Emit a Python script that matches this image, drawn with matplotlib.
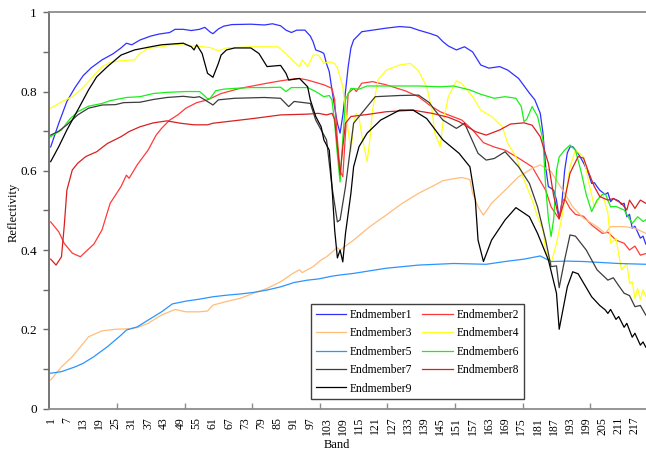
import matplotlib
matplotlib.use("Agg")
import matplotlib.pyplot as plt
from matplotlib.ticker import FixedLocator

plt.rcParams['font.family'] = ['Liberation Serif', 'DejaVu Serif']

# ---- spectral reflectance of each endmember (band number, reflectivity) ----
e1_band = [1, 4, 7, 10, 13, 16, 20, 24, 27, 29, 31, 34, 38, 41, 45, 47, 50, 53, 56, 58, 60, 61, 63, 65, 68, 75,
           80, 83, 86, 88, 90, 92, 95, 97, 98, 99, 101, 102, 103, 104, 105, 106, 107, 108, 109, 110, 111, 112,
           113, 116, 120, 125, 130, 134, 137, 141, 144, 146, 148, 151, 154, 157, 160, 163, 167, 170, 174, 178,
           180, 182, 183, 184, 185, 186, 187, 188, 189, 190, 191, 192, 193, 194, 196, 198, 200, 201, 202, 203,
           204, 206, 207, 208, 209, 211, 212, 213, 214, 215, 216, 217, 218, 219, 220, 221]
e1_refl = [0.66, 0.72, 0.775, 0.81, 0.84, 0.86, 0.88, 0.895, 0.91, 0.922, 0.918, 0.93, 0.94, 0.945, 0.949, 0.957,
           0.957, 0.954, 0.957, 0.962, 0.95, 0.946, 0.958, 0.965, 0.969, 0.97, 0.968, 0.971, 0.966, 0.955, 0.949,
           0.955, 0.955, 0.94, 0.926, 0.905, 0.9, 0.896, 0.87, 0.85, 0.804, 0.76, 0.72, 0.695, 0.74, 0.8, 0.863,
           0.91, 0.93, 0.951, 0.955, 0.96, 0.964, 0.962, 0.955, 0.947, 0.94, 0.926, 0.915, 0.905, 0.913, 0.9,
           0.867, 0.859, 0.863, 0.854, 0.833, 0.796, 0.779, 0.745, 0.695, 0.61, 0.56, 0.556, 0.55, 0.526, 0.48,
           0.52, 0.6, 0.645, 0.66, 0.661, 0.644, 0.62, 0.59, 0.568, 0.57, 0.56, 0.551, 0.54, 0.545, 0.522, 0.53,
           0.524, 0.515, 0.518, 0.484, 0.49, 0.455, 0.46, 0.445, 0.43, 0.435, 0.415]

e2_band = [1, 4, 6, 9, 12, 14, 17, 20, 23, 27, 29, 30, 33, 37, 40, 42, 45, 48, 51, 55, 59, 64, 71, 81, 86, 91, 93,
           96, 98, 102, 105, 106, 107, 108, 109, 110, 111, 113, 114, 116, 120, 125, 132, 137, 141, 145, 148, 153,
           157, 161, 165, 169, 174, 179, 184, 186, 189, 190, 191, 193, 195, 198, 201, 205, 207, 210, 213, 215,
           217, 219, 221]
e2_refl = [0.471, 0.446, 0.417, 0.392, 0.383, 0.396, 0.415, 0.451, 0.518, 0.56, 0.589, 0.581, 0.615, 0.652, 0.69,
           0.707, 0.728, 0.741, 0.758, 0.772, 0.779, 0.795, 0.808, 0.821, 0.827, 0.832, 0.833, 0.829, 0.825, 0.817,
           0.808, 0.779, 0.678, 0.6, 0.585, 0.695, 0.795, 0.808, 0.8, 0.821, 0.825, 0.817, 0.802, 0.787, 0.766,
           0.749, 0.741, 0.728, 0.703, 0.671, 0.66, 0.652, 0.632, 0.61, 0.551, 0.509, 0.478, 0.52, 0.53, 0.505,
           0.49, 0.485, 0.463, 0.442, 0.445, 0.425, 0.417, 0.4, 0.41, 0.387, 0.391]

e3_band = [1, 5, 9, 11, 15, 20, 25, 29, 33, 37, 42, 47, 51, 56, 59, 61, 66, 71, 76, 81, 86, 91, 93, 94, 98, 101,
           103, 107, 108, 113, 119, 125, 131, 137, 143, 146, 150, 153, 156, 157, 159, 161, 164, 169, 174, 179,
           182, 186, 191, 194, 198, 203, 206, 208, 213, 217, 221]
e3_refl = [0.072, 0.105, 0.131, 0.147, 0.181, 0.196, 0.2, 0.201, 0.204, 0.215, 0.236, 0.25, 0.244, 0.244, 0.246,
           0.261, 0.27, 0.278, 0.291, 0.303, 0.32, 0.343, 0.35, 0.343, 0.358, 0.375, 0.383, 0.406, 0.4, 0.425,
           0.459, 0.488, 0.518, 0.543, 0.564, 0.575, 0.58, 0.583, 0.578, 0.543, 0.509, 0.488, 0.518, 0.551,
           0.585, 0.606, 0.615, 0.598, 0.543, 0.509, 0.48, 0.459, 0.442, 0.459, 0.459, 0.455, 0.442]

e4_band = [1, 5, 9, 12, 16, 20, 23, 27, 32, 34, 37, 42, 47, 51, 56, 60, 63, 66, 75, 81, 85, 88, 91, 93, 94, 96, 98,
           100, 102, 104, 106, 107, 109, 110, 112, 113, 114, 115, 116, 118, 119, 120, 122, 125, 130, 134, 137,
           140, 142, 143, 145, 146, 148, 151, 153, 157, 160, 164, 168, 170, 173, 176, 179, 181, 183, 184, 186,
           188, 190, 191, 193, 195, 198, 200, 202, 204, 205, 207, 208, 210, 212, 214, 215, 216, 217, 218, 219,
           220, 221]
e4_refl = [0.758, 0.774, 0.787, 0.804, 0.833, 0.863, 0.873, 0.878, 0.88, 0.896, 0.909, 0.913, 0.919, 0.917, 0.914,
           0.911, 0.903, 0.91, 0.913, 0.913, 0.913, 0.896, 0.875, 0.863, 0.88, 0.863, 0.892, 0.892, 0.871, 0.875,
           0.871, 0.86, 0.812, 0.753, 0.648, 0.72, 0.745, 0.735, 0.69, 0.623, 0.678, 0.753, 0.829, 0.854, 0.867,
           0.871, 0.852, 0.812, 0.753, 0.695, 0.661, 0.72, 0.787, 0.827, 0.82, 0.787, 0.753, 0.737, 0.711, 0.669,
           0.636, 0.577, 0.526, 0.484, 0.45, 0.4, 0.366, 0.417, 0.484, 0.526, 0.61, 0.652, 0.636, 0.568, 0.509,
           0.535, 0.543, 0.493, 0.417, 0.43, 0.35, 0.366, 0.316, 0.32, 0.278, 0.303, 0.274, 0.3, 0.282]

e5_band = [1, 5, 10, 13, 17, 22, 27, 29, 33, 37, 42, 46, 51, 56, 61, 66, 71, 76, 81, 86, 91, 96, 100, 105, 108,
           113, 125, 137, 150, 162, 169, 176, 182, 186, 192, 198, 211, 221]
e5_refl = [0.089, 0.093, 0.105, 0.114, 0.131, 0.156, 0.185, 0.198, 0.206, 0.223, 0.244, 0.264, 0.271, 0.276,
           0.282, 0.286, 0.289, 0.293, 0.299, 0.307, 0.318, 0.324, 0.327, 0.334, 0.337, 0.341, 0.354, 0.362,
           0.366, 0.364, 0.371, 0.377, 0.385, 0.371, 0.372, 0.371, 0.366, 0.364]

e6_band = [1, 5, 8, 11, 15, 20, 23, 29, 34, 39, 44, 51, 56, 57, 59, 60, 62, 65, 69, 75, 81, 86, 88, 90, 96, 99, 102,
           104, 105, 106, 107, 108, 109, 110, 112, 115, 118, 125, 130, 137, 145, 150, 156, 160, 165, 169, 173,
           175, 176, 177, 179, 181, 183, 184, 185, 186, 187, 188, 189, 191, 193, 195, 197, 199, 201, 203, 205,
           206, 208, 210, 213, 216, 218, 220, 221]
e6_refl = [0.686, 0.703, 0.73, 0.749, 0.763, 0.77, 0.777, 0.785, 0.787, 0.795, 0.798, 0.8, 0.8, 0.795, 0.782, 0.783,
           0.802, 0.806, 0.808, 0.81, 0.81, 0.811, 0.8, 0.81, 0.81, 0.8, 0.787, 0.79, 0.779, 0.72, 0.64, 0.572,
           0.68, 0.78, 0.808, 0.806, 0.814, 0.814, 0.814, 0.814, 0.812, 0.814, 0.804, 0.793, 0.783, 0.787, 0.783,
           0.762, 0.724, 0.73, 0.762, 0.737, 0.678, 0.56, 0.48, 0.434, 0.48, 0.6, 0.635, 0.652, 0.665, 0.652, 0.6,
           0.54, 0.497, 0.526, 0.54, 0.543, 0.509, 0.51, 0.501, 0.467, 0.484, 0.472, 0.476]

e7_band = [1, 4, 7, 11, 15, 20, 25, 28, 34, 39, 44, 50, 54, 56, 58, 61, 63, 69, 80, 86, 89, 91, 97, 99, 103, 105,
           107, 108, 110, 113, 118, 121, 130, 137, 141, 143, 146, 151, 154, 159, 162, 165, 169, 174, 178, 181,
           184, 186, 188, 189, 191, 193, 195, 199, 203, 207, 209, 211, 213, 215, 217, 219, 221]
e7_refl = [0.69, 0.7, 0.716, 0.741, 0.758, 0.766, 0.767, 0.772, 0.773, 0.78, 0.785, 0.788, 0.785, 0.787, 0.779,
           0.766, 0.779, 0.783, 0.785, 0.783, 0.762, 0.775, 0.77, 0.728, 0.678, 0.56, 0.471, 0.476, 0.56, 0.72,
           0.762, 0.787, 0.79, 0.791, 0.772, 0.753, 0.728, 0.707, 0.72, 0.644, 0.627, 0.631, 0.648, 0.61, 0.568,
           0.509, 0.425, 0.358, 0.36, 0.305, 0.375, 0.438, 0.435, 0.4, 0.35, 0.324, 0.33, 0.31, 0.291, 0.285,
           0.257, 0.26, 0.236]

e8_band = [1, 3, 5, 6, 7, 9, 11, 14, 18, 22, 27, 30, 34, 39, 44, 49, 54, 59, 61, 66, 76, 86, 96, 100, 103, 105, 106,
           107, 108, 109, 110, 112, 118, 125, 135, 142, 148, 152, 158, 162, 167, 171, 176, 179, 182, 185, 187,
           189, 191, 193, 196, 198, 200, 202, 204, 207, 209, 212, 214, 215, 217, 219, 221]
e8_refl = [0.377, 0.362, 0.383, 0.459, 0.551, 0.602, 0.619, 0.636, 0.648, 0.669, 0.686, 0.699, 0.711, 0.721,
           0.726, 0.72, 0.716, 0.716, 0.72, 0.724, 0.732, 0.741, 0.743, 0.745, 0.741, 0.745, 0.73, 0.66, 0.59,
           0.66, 0.72, 0.737, 0.742, 0.749, 0.753, 0.745, 0.735, 0.724, 0.699, 0.69, 0.703, 0.718, 0.721, 0.715,
           0.686, 0.619, 0.535, 0.48, 0.526, 0.594, 0.636, 0.632, 0.594, 0.56, 0.535, 0.526, 0.53, 0.518, 0.501,
           0.526, 0.505, 0.526, 0.518]

e9_band = [1, 4, 7, 11, 15, 18, 22, 27, 32, 38, 42, 46, 50, 53, 54, 55, 57, 59, 61, 63, 64, 66, 69, 75, 78, 81, 86,
           88, 89, 93, 96, 97, 99, 101, 102, 104, 105, 106, 107, 108, 109, 110, 112, 113, 115, 118, 123, 130,
           135, 140, 146, 152, 156, 158, 159, 161, 164, 169, 173, 178, 181, 185, 188, 189, 192, 194, 196, 201,
           204, 206, 207, 208, 210, 211, 213, 214, 216, 217, 219, 220, 221]
e9_refl = [0.623, 0.661, 0.703, 0.753, 0.804, 0.837, 0.863, 0.892, 0.905, 0.913, 0.918, 0.92, 0.922, 0.913,
           0.905, 0.918, 0.896, 0.846, 0.836, 0.871, 0.892, 0.905, 0.91, 0.91, 0.896, 0.863, 0.866, 0.846, 0.829,
           0.833, 0.812, 0.779, 0.737, 0.711, 0.678, 0.652, 0.56, 0.45, 0.38, 0.4, 0.37, 0.442, 0.543, 0.61,
           0.661, 0.695, 0.728, 0.753, 0.753, 0.732, 0.678, 0.644, 0.61, 0.526, 0.425, 0.371, 0.425, 0.476,
           0.507, 0.484, 0.442, 0.375, 0.291, 0.2, 0.307, 0.345, 0.34, 0.282, 0.26, 0.249, 0.24, 0.25, 0.225,
           0.232, 0.205, 0.215, 0.18, 0.19, 0.16, 0.168, 0.155]

names = ['Endmember1', 'Endmember2', 'Endmember3', 'Endmember4', 'Endmember5',
         'Endmember6', 'Endmember7', 'Endmember8', 'Endmember9']
colors = ['#3030ff', '#ff3a3a', '#ffbd7a', '#ffff20', '#2a95ff',
          '#18f018', '#3c3c3c', '#d82020', '#000000']
band_lists = [e1_band, e2_band, e3_band, e4_band, e5_band, e6_band, e7_band, e8_band, e9_band]
refl_lists = [e1_refl, e2_refl, e3_refl, e4_refl, e5_refl, e6_refl, e7_refl, e8_refl, e9_refl]

tick_label_bands = list(range(1, 218, 6))
tick_mark_bands = [25.5 + 25 * k for k in range(8)]
y_major = [0, 0.2, 0.4, 0.6, 0.8, 1.0]
y_major_labels = ['0', '0.2', '0.4', '0.6', '0.8', '1']
y_minor = [0.1, 0.3, 0.5, 0.7, 0.9]

W, H = 646, 455
fig = plt.figure(figsize=(W / 100, H / 100), dpi=100)
ax = fig.add_axes([49.3 / W, 46.5 / H, (W - 49.3) / W, 396.2 / H])

handles = {}
for name, col, b, r in zip(names, colors, band_lists, refl_lists):
    ln, = ax.plot(b, r, color=col, lw=0.9, label=name)
    handles[name] = ln

ax.set_xlim(0.5, 0.5 + (W - 49.3) / 2.705)
ax.set_ylim(0, 1)

for side in ['top', 'bottom', 'left']:
    ax.spines[side].set_color('#8c8c8c')
    ax.spines[side].set_linewidth(1.3)
ax.spines['left'].set_color('#6a6a6a')
ax.spines['right'].set_visible(False)

ax.xaxis.set_major_locator(FixedLocator(tick_label_bands))
ax.set_xticklabels([str(b) for b in tick_label_bands], rotation=90, fontsize=8.5)
ax.xaxis.set_minor_locator(FixedLocator(tick_mark_bands))
ax.tick_params(axis='x', which='major', length=0, pad=6)
ax.tick_params(axis='x', which='minor', direction='in', length=4, color='#8c8c8c', width=1)

ax.yaxis.set_major_locator(FixedLocator(y_major))
ax.yaxis.set_minor_locator(FixedLocator(y_minor))
ax.set_yticklabels(y_major_labels, fontsize=9.5)
ax.tick_params(axis='y', which='both', direction='out', length=4, color='#6a6a6a', width=1, pad=5)

fig.text(337 / W, 1 - 445 / H, 'Band', ha='center', va='center', fontsize=9)
fig.text(14 / W, 1 - 212 / H, 'Reflectivity', ha='center', va='center', rotation=90, fontsize=9)

order = ['Endmember1', 'Endmember3', 'Endmember5', 'Endmember7', 'Endmember9',
         'Endmember2', 'Endmember4', 'Endmember6', 'Endmember8']
leg = ax.legend([handles[n] for n in order], order, ncol=2, loc='upper left',
                bbox_to_anchor=(310.7 / W, 1 - 304 / H), bbox_transform=fig.transFigure,
                fontsize=8.4, frameon=True, fancybox=False, framealpha=1, borderpad=0.42,
                handlelength=2.6, handletextpad=0.3, columnspacing=0.9, labelspacing=0.55,
                borderaxespad=0)
leg.get_frame().set_edgecolor('#404040')
leg.get_frame().set_linewidth(1.0)

fig.savefig('out.png', dpi=100)
